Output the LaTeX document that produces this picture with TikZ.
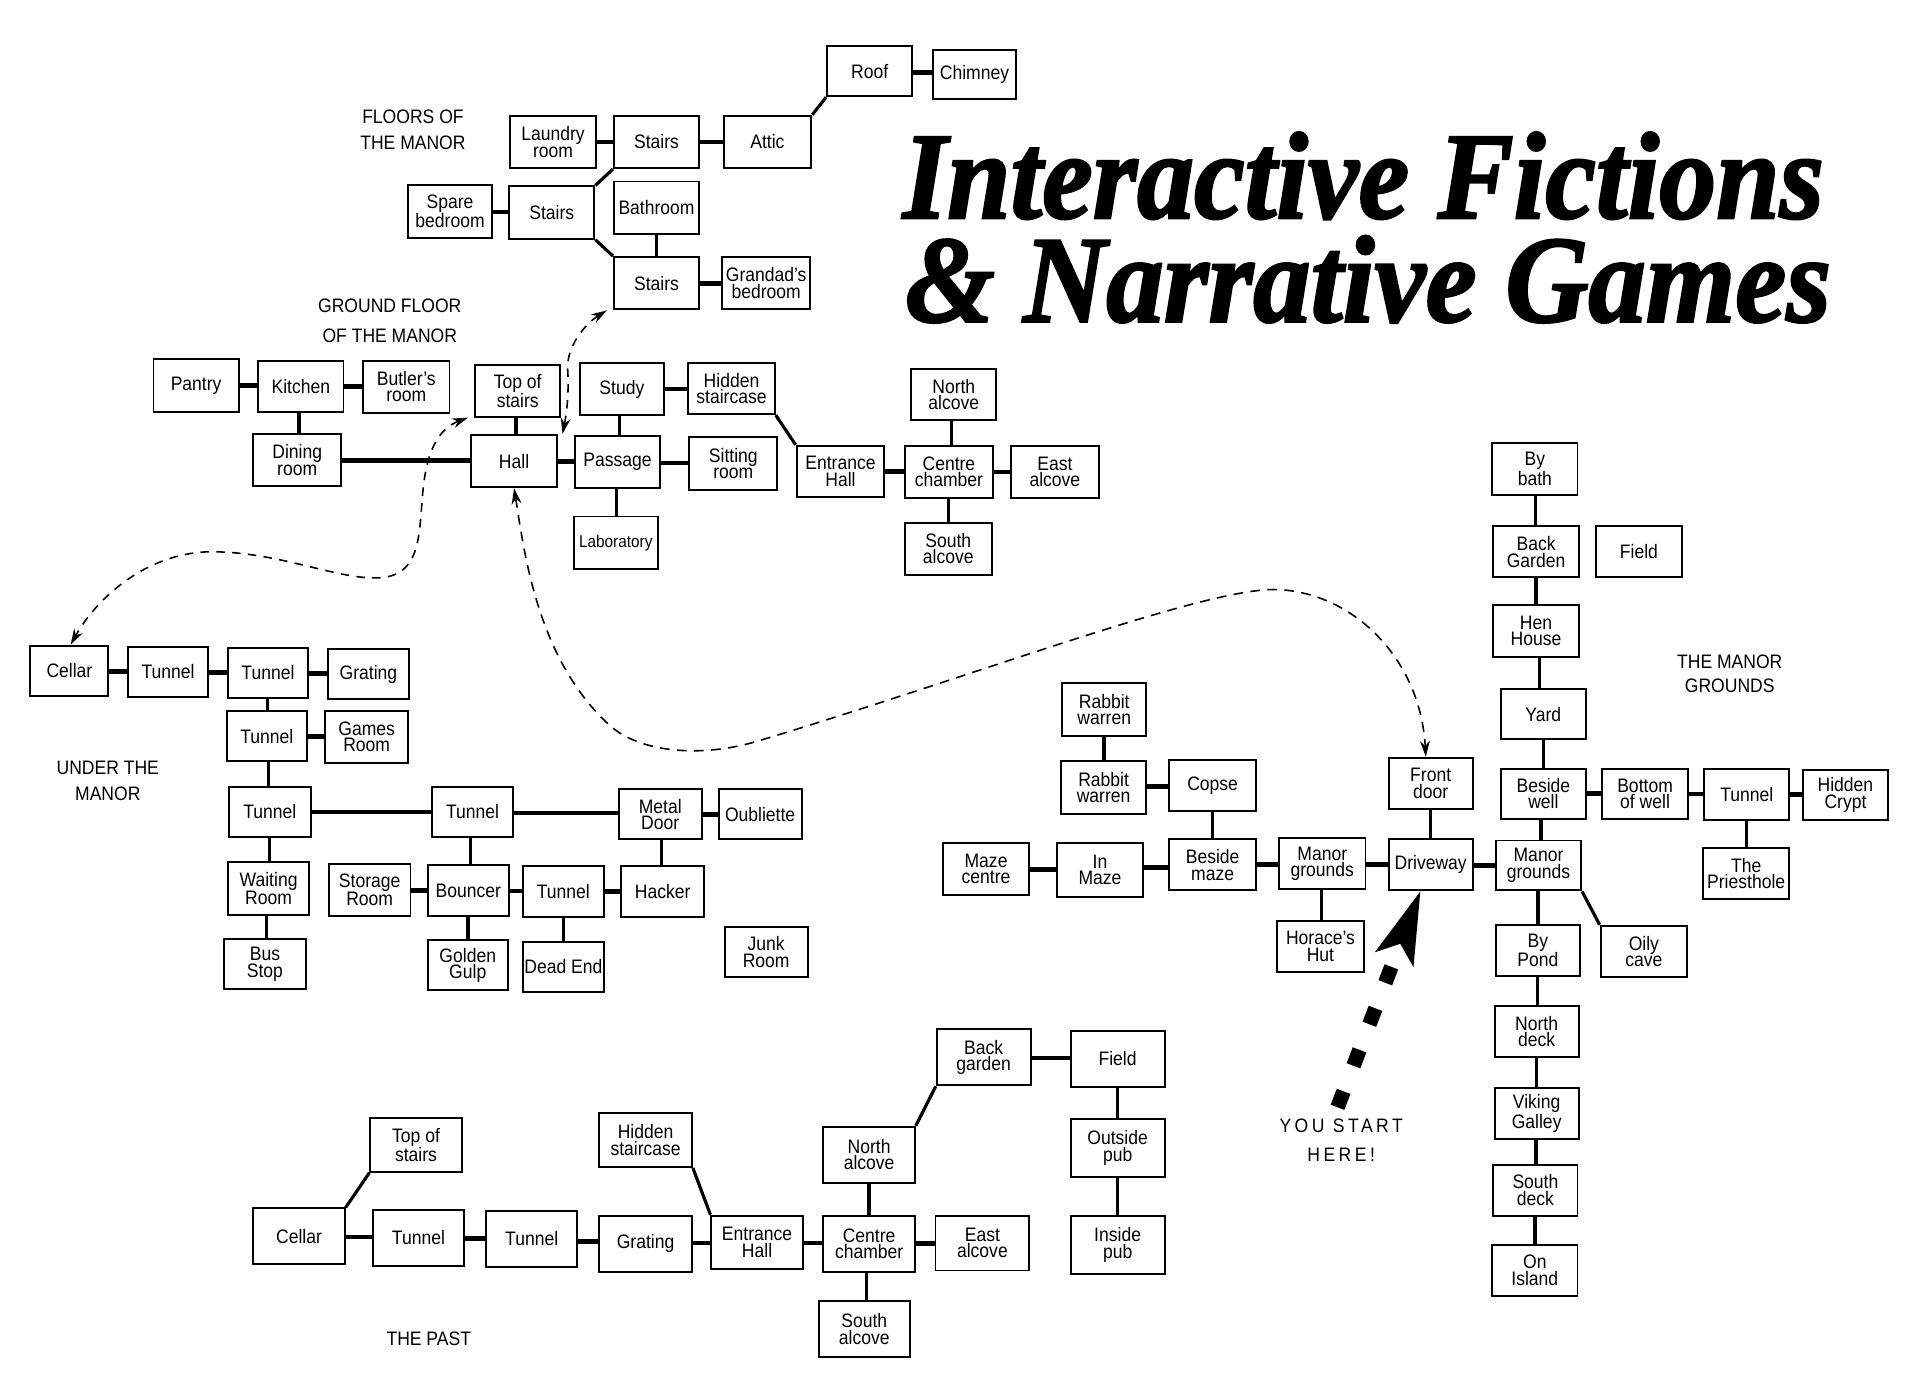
\documentclass[tikz,border=0pt]{standalone}
\usepackage{fontspec}
\usepackage{graphicx}
\usetikzlibrary{arrows.meta,calc}
\newfontfamily\roomfont[FakeStretch=0.9]{Liberation Sans}
\newfontfamily\startfont[FakeStretch=0.9,LetterSpace=18]{Liberation Sans}
\newfontfamily\titlefont[BoldItalicFeatures={FakeBold=2}]{Liberation Serif}
\newcommand\mkroom[6]{\node[room, minimum width={(#4-#2)*1pt}, minimum height={(#5-#3)*1pt}] (#1) at ({(#2+#4)/2},{(#3+#5)/2}) {#6};}
\newcommand\hlink[2]{\path ($(#1.east)!.5!(#2.west)$) coordinate (tmpm); \draw[hl] (#1.east |- tmpm) -- (#2.west |- tmpm);}
\newcommand\vlink[2]{\path ($(#1.south)!.5!(#2.north)$) coordinate (tmpm); \draw[vl] (#1.south -| tmpm) -- (#2.north -| tmpm);}
\begin{document}
\begin{tikzpicture}[x=1pt,y=-1pt,
  room/.style={draw, line width=1.6pt, inner sep=0pt, align=center, font=\roomfont\fontsize{16}{13.5}\selectfont},
  hl/.style={line width=3.9pt},
  vl/.style={line width=2.8pt},
  dg/.style={line width=2.6pt},
  lab/.style={inner sep=0pt, align=center, anchor=north},
  dasharrow/.style={line width=1.3pt, dash pattern=on 7pt off 6pt, {Stealth[length=13pt,width=8pt]}-{Stealth[length=13pt,width=8pt]}},
  startarrow/.style={line width=12pt, dash pattern=on 14pt off 22.5pt, -{Stealth[length=60pt,width=34pt,inset=14pt,line width=0pt]}}
]
\fill[white] (0,0) rectangle (1568,1133);
\useasboundingbox (0,0) rectangle (1568,1133);

% title
\node[anchor=base west, inner sep=0pt] (title) at (741,179) {\titlefont\bfseries\itshape\fontsize{101.6}{101.6}\selectfont
  \vtop{\baselineskip=85pt\lineskiplimit=-\maxdimen
    \hbox{\resizebox{756pt}{\height}{Interactive Fictions}}
    \hbox{\hspace*{2pt}\resizebox{760pt}{\height}{\& Narrative Games}}}};

% labels
\node[lab, font=\roomfont\fontsize{16}{21.3}\selectfont] (lfloors) at (339,89.7) {FLOORS OF\\THE MANOR};
\node[lab, font=\roomfont\fontsize{16}{24.5}\selectfont] (lground) at (320,245) {GROUND FLOOR\\OF THE MANOR};
\node[lab, font=\roomfont\fontsize{16}{21}\selectfont] (lunder) at (88.5,625) {UNDER THE\\MANOR};
\node[lab, font=\roomfont\fontsize{16}{19.7}\selectfont] (lgrounds) at (1420,537.3) {THE MANOR\\GROUNDS};
\node[lab, font=\roomfont\fontsize{16}{20}\selectfont] (lpast) at (352,1093) {THE PAST};
\node[lab, font=\startfont\fontsize{16}{24}\selectfont] (lstart) at (1101,918) {YOU START\\HERE!};

% floors of the manor
\mkroom{roof}{679}{38}{749}{79}{Roof}
\mkroom{chim}{766}{41}{834}{81}{Chimney}
\mkroom{laun}{419}{95}{489}{138}{Laundry\\room}
\mkroom{stA}{504}{95}{574}{138}{Stairs}
\mkroom{attic}{594}{95}{666}{138}{Attic}
\mkroom{spare}{335}{152}{404}{195}{Spare\\bedroom}
\mkroom{stB}{418}{153}{488}{196}{Stairs}
\mkroom{bath}{504}{149}{574}{192}{Bathroom}
\mkroom{stC}{504}{211}{574}{254}{Stairs}
\mkroom{grand}{593}{211}{665}{254}{Grandad’s\\bedroom}

% ground floor
\mkroom{pantry}{126}{295}{196}{338}{Pantry}
\mkroom{kitchen}{212}{296}{282}{338}{Kitchen}
\mkroom{butler}{298}{296}{369}{339}{Butler’s\\room}
\mkroom{dining}{208}{356}{280}{399}{Dining\\room}
\mkroom{tos}{390}{300}{460}{342}{Top of\\stairs}
\mkroom{hall}{387}{357}{457}{400}{Hall}
\mkroom{study}{476}{298}{545}{341}{Study}
\mkroom{hidden}{565}{298}{636}{340}{Hidden\\staircase}
\mkroom{passage}{472}{358}{542}{401}{Passage}
\mkroom{sitting}{566}{359}{638}{402}{Sitting\\room}
\mkroom{labor}{471}{424}{540}{467}{\fontsize{14}{14}\selectfont Laboratory}
\mkroom{entr}{654}{366}{726}{408}{Entrance\\Hall}
\mkroom{centre}{743}{366}{815}{409}{Centre\\chamber}
\mkroom{north}{748}{303}{818}{345}{North\\alcove}
\mkroom{east}{830}{366}{902}{409}{East\\alcove}
\mkroom{south}{743}{429}{814}{472}{South\\alcove}

% under the manor
\mkroom{ucellar}{25}{530}{89}{571}{Cellar}
\mkroom{ut1}{105}{531}{171}{572}{Tunnel}
\mkroom{ut2}{187}{532}{253}{573}{Tunnel}
\mkroom{ugrat}{269}{533}{336}{574}{Grating}
\mkroom{ut3}{186}{584}{252}{625}{Tunnel}
\mkroom{games}{267}{584}{335}{626}{Games\\Room}
\mkroom{ut4}{188}{646}{255}{687}{Tunnel}
\mkroom{ut5}{355}{646}{421}{687}{Tunnel}
\mkroom{metal}{508}{648}{576}{689}{Metal\\Door}
\mkroom{oub}{590}{648}{658}{689}{Oubliette}
\mkroom{wait}{187}{708}{254}{751}{Waiting\\Room}
\mkroom{storage}{270}{709}{337}{752}{Storage\\Room}
\mkroom{bouncer}{351}{710}{418}{752}{Bouncer}
\mkroom{ut6}{429}{711}{496}{753}{Tunnel}
\mkroom{hacker}{510}{711}{578}{753}{Hacker}
\mkroom{bus}{184}{771}{251}{812}{Bus\\Stop}
\mkroom{golden}{351}{772}{417}{813}{Golden\\Gulp}
\mkroom{dead}{429}{773}{496}{814}{Dead End}
\mkroom{junk}{595}{761}{663}{802}{Junk\\Room}

% the past
\mkroom{ptos}{304}{918}{379}{962}{Top of\\stairs}
\mkroom{pcellar}{208}{992}{283}{1038}{Cellar}
\mkroom{pt1}{306}{993}{381}{1039}{Tunnel}
\mkroom{pt2}{399}{994}{474}{1040}{Tunnel}
\mkroom{pgrat}{492}{998}{568}{1044}{Grating}
\mkroom{phidden}{492}{914}{568}{958}{Hidden\\staircase}
\mkroom{pentr}{584}{998}{659}{1042}{Entrance\\Hall}
\mkroom{pcentre}{676}{998}{751}{1044}{Centre\\chamber}
\mkroom{pnorth}{676}{925}{751}{971}{North\\alcove}
\mkroom{peast}{768}{998}{845}{1043}{East\\alcove}
\mkroom{psouth}{672}{1068}{747}{1114}{South\\alcove}
\mkroom{pback}{769}{845}{846}{891}{Back\\garden}
\mkroom{pfield}{879}{846}{956}{892}{Field}
\mkroom{pout}{879}{919}{956}{966}{Outside\\pub}
\mkroom{pin}{879}{998}{956}{1046}{Inside\\pub}

% the manor grounds
\mkroom{bybath}{1225}{364}{1295}{406}{By\\bath}
\mkroom{gback}{1226}{432}{1296}{474}{Back\\Garden}
\mkroom{gfield}{1310}{432}{1381}{474}{Field}
\mkroom{hen}{1226}{497}{1296}{539}{Hen\\House}
\mkroom{yard}{1232}{566}{1302}{607}{Yard}
\mkroom{well}{1232}{631}{1302}{672}{Beside\\well}
\mkroom{bwell}{1315}{631}{1386}{672}{Bottom\\of well}
\mkroom{gtun}{1399}{631}{1469}{673}{Tunnel}
\mkroom{crypt}{1480}{632}{1550}{673}{Hidden\\Crypt}
\mkroom{priest}{1398}{696}{1469}{738}{The\\Priesthole}
\mkroom{mgr}{1228}{690}{1298}{731}{Manor\\grounds}
\mkroom{pond}{1228}{759}{1297}{801}{By\\Pond}
\mkroom{oily}{1314}{760}{1385}{802}{Oily\\cave}
\mkroom{ndeck}{1227}{826}{1296}{868}{North\\deck}
\mkroom{viking}{1227}{893}{1296}{935}{Viking\\Galley}
\mkroom{sdeck}{1226}{956}{1295}{998}{South\\deck}
\mkroom{island}{1225}{1022}{1295}{1064}{On\\Island}
\mkroom{front}{1140}{622}{1209}{664}{Front\\door}
\mkroom{drive}{1140}{689}{1209}{731}{Driveway}
\mkroom{mgl}{1050}{688}{1121}{730}{Manor\\grounds}
\mkroom{horace}{1048}{756}{1120}{798}{Horace’s\\Hut}
\mkroom{bmaze}{960}{689}{1031}{731}{Beside\\maze}
\mkroom{copse}{960}{624}{1031}{666}{Copse}
\mkroom{rab2}{871}{625}{941}{668}{Rabbit\\warren}
\mkroom{rab1}{872}{561}{941}{604}{Rabbit\\warren}
\mkroom{inmaze}{868}{692}{938}{736}{In\\Maze}
\mkroom{mazec}{774}{692}{845}{735}{Maze\\centre}

% connectors: floors
\hlink{laun}{stA}
\hlink{stA}{attic}
\draw[dg] (attic.north east) -- (roof.south west);
\hlink{roof}{chim}
\hlink{spare}{stB}
\draw[dg] (stB.north east) -- (stA.south west);
\draw[dg] (stB.south east) -- (stC.north west);
\vlink{bath}{stC}
\hlink{stC}{grand}

% connectors: ground floor
\hlink{pantry}{kitchen}
\hlink{kitchen}{butler}
\vlink{kitchen}{dining}
\hlink{dining}{hall}
\vlink{tos}{hall}
\hlink{hall}{passage}
\vlink{study}{passage}
\hlink{study}{hidden}
\hlink{passage}{sitting}
\vlink{passage}{labor}
\draw[dg] (hidden.south east) -- (entr.north west);
\hlink{entr}{centre}
\vlink{north}{centre}
\hlink{centre}{east}
\vlink{centre}{south}

% connectors: under the manor
\hlink{ucellar}{ut1}
\hlink{ut1}{ut2}
\hlink{ut2}{ugrat}
\vlink{ut2}{ut3}
\hlink{ut3}{games}
\vlink{ut3}{ut4}
\hlink{ut4}{ut5}
\hlink{ut5}{metal}
\hlink{metal}{oub}
\vlink{ut4}{wait}
\vlink{wait}{bus}
\vlink{ut5}{bouncer}
\hlink{storage}{bouncer}
\hlink{bouncer}{ut6}
\hlink{ut6}{hacker}
\vlink{metal}{hacker}
\vlink{bouncer}{golden}
\vlink{ut6}{dead}

% connectors: the past
\draw[dg] (pcellar.north east) -- (ptos.south west);
\hlink{pcellar}{pt1}
\hlink{pt1}{pt2}
\hlink{pt2}{pgrat}
\hlink{pgrat}{pentr}
\draw[dg] (phidden.south east) -- (pentr.north west);
\hlink{pentr}{pcentre}
\vlink{pnorth}{pcentre}
\hlink{pcentre}{peast}
\vlink{pcentre}{psouth}
\draw[dg] (pnorth.north east) -- (pback.south west);
\hlink{pback}{pfield}
\vlink{pfield}{pout}
\vlink{pout}{pin}

% connectors: manor grounds
\vlink{bybath}{gback}
\vlink{gback}{hen}
\vlink{hen}{yard}
\vlink{yard}{well}
\hlink{well}{bwell}
\hlink{bwell}{gtun}
\hlink{gtun}{crypt}
\vlink{gtun}{priest}
\vlink{well}{mgr}
\vlink{mgr}{pond}
\draw[dg] (mgr.south east) -- (oily.north west);
\vlink{pond}{ndeck}
\vlink{ndeck}{viking}
\vlink{viking}{sdeck}
\vlink{sdeck}{island}
\hlink{drive}{mgr}
\vlink{front}{drive}
\hlink{mgl}{drive}
\vlink{mgl}{horace}
\hlink{bmaze}{mgl}
\vlink{copse}{bmaze}
\hlink{rab2}{copse}
\vlink{rab1}{rab2}
\hlink{inmaze}{bmaze}
\hlink{mazec}{inmaze}

% dashed passages between levels
\draw[dasharrow] ([xshift=-5pt]tos.south west) .. controls (360,352) and (350,370) .. (347,405)
  .. controls (344,440) and (345,470) .. (315,474)
  .. controls (280,478) and (230,452) .. (170,453)
  .. controls (120,455) and (80,490) .. ([xshift=1pt]ucellar.north);
\draw[dasharrow] ([xshift=4pt]hall.north east) .. controls (466,335) and (467,318) .. (466,303)
  .. controls (465,285) and (480,266) .. ([xshift=-5pt]stC.south west);
\draw[dasharrow, dash pattern=on 8pt off 6pt] (hall.south) .. controls (430,450) and (440,540) .. (500,595)
  .. controls (525,618) and (575,622) .. (620,609)
  .. controls (800,555) and (990,482) .. (1048,484)
  .. controls (1110,486) and (1166,540) .. ([xshift=-4pt]front.north);

% start arrow
\coordinate (ystart) at (1098,909);
\draw[startarrow] (ystart) -- ([xshift=-8.5pt]drive.south);
\end{tikzpicture}
\end{document}
